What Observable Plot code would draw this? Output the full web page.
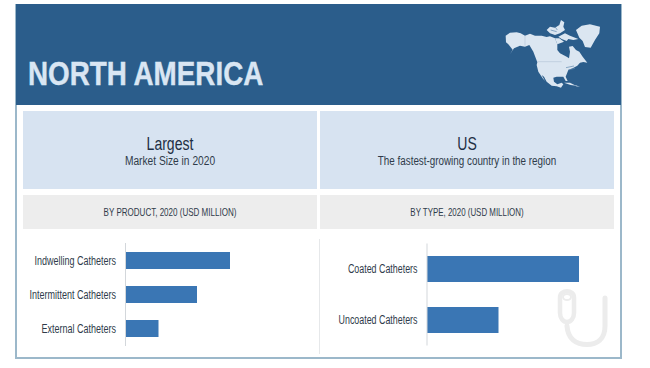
<!DOCTYPE html>
<html><head><meta charset="utf-8">
<script src="https://cdn.jsdelivr.net/npm/d3@7"></script>
<script src="https://cdn.jsdelivr.net/npm/@observablehq/plot@0.6"></script>
<style>
html,body{margin:0;padding:0;background:#fff}
#page{position:relative;width:650px;height:368px;overflow:hidden;font-family:"Liberation Sans",sans-serif}
#page div{position:absolute;box-sizing:border-box}
.frame{left:15px;top:4px;width:607px;height:355px;border:2px solid #9cb8ca;border-top:none}
.head{left:16px;top:4px;width:605px;height:101px;background:#2b5d8b}
.title{left:28px;top:54px;font-size:33.5px;font-weight:bold;color:#d9e6f3;line-height:40px;white-space:nowrap;transform:scaleX(.83);transform-origin:left center;-webkit-text-stroke:.4px #d9e6f3}
.panel{background:#d7e3f1;width:294px;height:78px;top:111px}
.band{background:#ededed;width:294px;height:34px;top:195px}
.lab{width:294px;text-align:center;white-space:nowrap}
.big{top:134px;font-size:18px;line-height:20px;color:#1f2f44}
.small{top:154px;font-size:12px;line-height:15px;color:#2f3b4a}
.cap{top:195px;font-size:11px;line-height:35px;color:#2f3b4a}
.sep{left:319px;top:239px;width:1px;height:115px;background:#e6e8ea}
.plot{left:0;top:0}
</style></head><body>
<div id="page">
  <div class="frame"></div>
  <div class="head"></div>
  <div class="title">NORTH AMERICA</div>
  <div class="panel" style="left:23px"></div>
  <div class="panel" style="left:320px"></div>
  <div class="band" style="left:23px"></div>
  <div class="band" style="left:320px"></div>
  <div class="sep"></div>
  <div class="lab big" style="left:23px;transform:scaleX(.78)">Largest</div>
  <div class="lab small" style="left:23px;transform:scaleX(.85)">Market Size in 2020</div>
  <div class="lab big" style="left:320px;transform:scaleX(.78)">US</div>
  <div class="lab small" style="left:320px;transform:scaleX(.82)">The fastest-growing country in the region</div>
  <div class="lab cap" style="left:23px;transform:scaleX(.73)">BY PRODUCT, 2020 (USD MILLION)</div>
  <div class="lab cap" style="left:320px;transform:scaleX(.72)">BY TYPE, 2020 (USD MILLION)</div>
  <div class="plot"><svg width="650" height="368" style="display:block">
    <path d="M605 298V326C605 339 597 344.500 587 344.500C576 344.500 568 339 567 326" fill="none" stroke="#ececec" stroke-width="5" stroke-linecap="round"/>
    <path d="M560 297.500C560 289 574 289 574 297.500V313C574 318 571 322 567 322C563 322 560 318 560 313Z" fill="none" stroke="#ececec" stroke-width="4.500"/>
    <ellipse cx="567" cy="297" rx="4" ry="3" fill="none" stroke="#ececec" stroke-width="2"/>
  </svg></div>
  <div id="left" class="plot"></div>
  <div id="right" class="plot"></div>
  <div class="plot"><svg width="650" height="368" style="display:block">
    <g transform="translate(500,15) scale(.3333)" fill="#dbe6f1">
      <path d="M17 62L30 53L50 52L62 55L75 62L90 56L105 62L125 62L140 66L150 64L165 70L172 88L172 105L180 115L200 125L207 130L210 110L207 95L218 93L228 105L238 110L248 125L262 143L250 141L240 143L232 152L218 160L205 165L200 178L197 185L203 198L197 198L190 185L170 185L160 188L162 200L172 208L185 203L190 208L183 218L170 214L155 212L140 200L132 185L125 180L135 198L128 190L115 170L110 150L112 142L100 110L88 90L75 95L60 92L42 100L30 118L38 104L25 88L18 82Z"/>
      <path d="M228 45L245 32L270 28L300 35L298 55L285 75L272 98L255 96L248 78L238 68Z"/>
      <path d="M140 45L150 35L165 38L178 30L183 15L193 22L190 35L195 45L180 55L165 60L150 55Z"/>
      <path d="M175 65L195 55L210 62L235 72L220 75L205 72L200 78L185 72Z"/>
      <path d="M165 70L178 70L192 80L172 88Z"/>
      <path d="M192 203L210 203L228 212L212 210Z"/>
      <path d="M225 210L240 215L228 214Z"/>
      <path d="M112 140L185 140M75 62L75 92" fill="none" stroke="#a9bdd0" stroke-width="1.500"/>
      <path d="M198 158L222 153M205 165L225 160M152 45L170 50M165 35L172 45" fill="none" stroke="#5d86ac" stroke-width="2"/>
    </g>
  </svg></div>
</div>
<script>
const productCategories = ["Indwelling Catheters", "Intermittent Catheters", "External Catheters"];
const productValues = [104.5, 71.5, 33];
const typeCategories = ["Coated Catheters", "Uncoated Catheters"];
const typeValues = [152, 71.5];

function barPanel(cats, vals, x0, top, bottom) {
  const rows = cats.map((c, i) => ({c, v: vals[i]}));
  return Plot.plot({
    width: 650, height: 368,
    marginLeft: x0, marginRight: 650 - x0 - 200, marginTop: top, marginBottom: 368 - bottom,
    style: {background: "transparent", fontFamily: '"Liberation Sans",sans-serif', fontSize: "12px", color: "#2f3b4a", overflow: "visible"},
    x: {domain: [0, 200], axis: null},
    y: {domain: cats, paddingInner: 0.5, paddingOuter: 0.25, label: null, tickSize: 0, tickPadding: 10},
    marks: [
      Plot.barX(rows, {y: "c", x: "v", fill: "#3a76b4"}),
      Plot.ruleX([0], {stroke: "#d3d7db", strokeWidth: 1, dx: -0.5})
    ]
  });
}
function narrow(host, fig, ratio) {
  host.append(fig);
  fig.querySelectorAll("text").forEach(t => {
    t.setAttribute("lengthAdjust", "spacingAndGlyphs");
    t.setAttribute("textLength", t.getComputedTextLength() * ratio);
  });
}
narrow(document.getElementById("left"), barPanel(productCategories, productValues, 125.5, 243, 346), 0.75);
narrow(document.getElementById("right"), barPanel(typeCategories, typeValues, 427, 243.5, 345.5), 0.74);
</script>
</body></html>
